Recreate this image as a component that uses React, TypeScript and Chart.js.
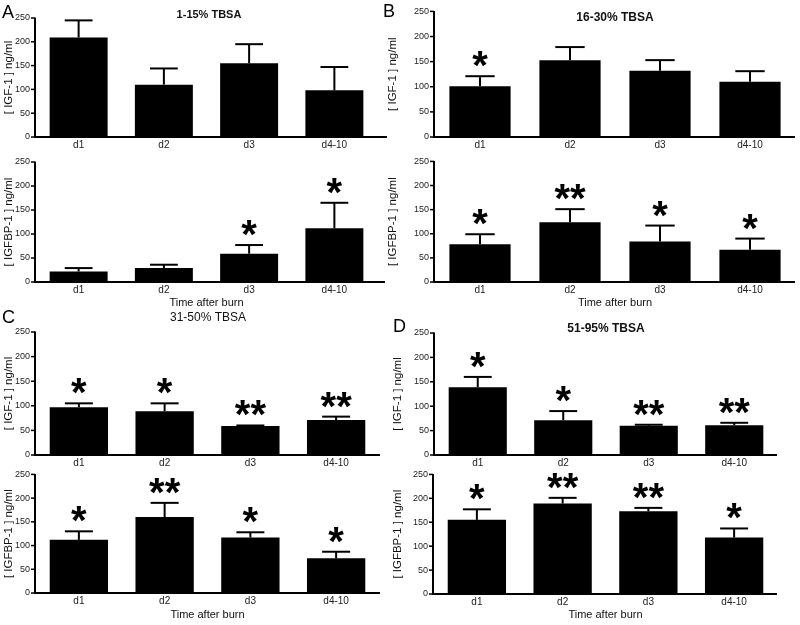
import React, { useEffect, useRef } from 'react';
import { Chart, registerables } from 'chart.js';
Chart.register(...registerables);

const CATEGORIES = ['d1', 'd2', 'd3', 'd4-10'];
const Y_MAX = 250;
const Y_STEP = 50;

const A_IGF1 = [209, 110, 155, 98];
const A_IGF1_SEM = [36, 34, 40, 49];
const A_IGF1_SIG = ['', '', '', ''];
const A_IGFBP1 = [22, 29, 59, 112];
const A_IGFBP1_SEM = [7, 7, 18, 53];
const A_IGFBP1_SIG = ['', '', '*', '*'];

const B_IGF1 = [101, 153, 132, 110];
const B_IGF1_SEM = [20, 26, 21, 21];
const B_IGF1_SIG = ['*', '', '', ''];
const B_IGFBP1 = [78, 124, 84, 67];
const B_IGFBP1_SEM = [21, 27, 33, 23];
const B_IGFBP1_SIG = ['*', '**', '*', '*'];

const C_IGF1 = [97, 89, 59, 71];
const C_IGF1_SEM = [8, 16, 1, 7];
const C_IGF1_SIG = ['*', '*', '**', '**'];
const C_IGFBP1 = [112, 160, 117, 73];
const C_IGFBP1_SEM = [18, 30, 11, 14];
const C_IGFBP1_SIG = ['*', '**', '*', '*'];

const D_IGF1 = [139, 71, 60, 61];
const D_IGF1_SEM = [21, 19, 2, 5];
const D_IGF1_SIG = ['*', '*', '**', '**'];
const D_IGFBP1 = [155, 189, 173, 118];
const D_IGFBP1_SEM = [22, 12, 7, 19];
const D_IGFBP1_SIG = ['*', '**', '**', '*'];

const Y_TITLE_IGF1 = '[ IGF-1 ] ng/ml';
const Y_TITLE_IGFBP1 = '[ IGFBP-1 ] ng/ml';
const X_TITLE = 'Time after burn';

const FONT = '"Liberation Sans", Arial, sans-serif';

type Spec = {
  key: string;
  cx: number; cy: number; cw: number; ch: number;
  L: number; R: number; T: number; B: number;
  ext: number;
  values: number[]; errs: number[]; sig: string[];
  yTitle: string; yTitlePad: number;
  xTitle?: boolean;
  sub?: { text: string; x: number; y: number; font: string };
  letter?: { text: string; x: number; y: number };
};

const SPECS: Spec[] = [
  { key: 'A1', cx: 0, cy: 0, cw: 400, ch: 150, L: 36, R: 377, T: 18, B: 137, ext: 10,
    values: A_IGF1, errs: A_IGF1_SEM, sig: A_IGF1_SIG, yTitle: Y_TITLE_IGF1, yTitlePad: 2,
    sub: { text: '1-15% TBSA', x: 209, y: 15, font: `bold 11px ${FONT}` },
    letter: { text: 'A', x: 2, y: 18 } },
  { key: 'A2', cx: 0, cy: 150, cw: 400, ch: 163, L: 36, R: 377, T: 162, B: 282, ext: 8,
    values: A_IGFBP1, errs: A_IGFBP1_SEM, sig: A_IGFBP1_SIG, yTitle: Y_TITLE_IGFBP1, yTitlePad: 2, xTitle: true },
  { key: 'B1', cx: 380, cy: 0, cw: 420, ch: 150, L: 435, R: 795, T: 9, B: 137, ext: 0,
    values: B_IGF1, errs: B_IGF1_SEM, sig: B_IGF1_SIG, yTitle: Y_TITLE_IGF1, yTitlePad: 6,
    sub: { text: '16-30% TBSA', x: 615, y: 18, font: `bold 12px ${FONT}` },
    letter: { text: 'B', x: 383, y: 17 } },
  { key: 'B2', cx: 380, cy: 150, cw: 420, ch: 163, L: 435, R: 795, T: 155, B: 282, ext: 0,
    values: B_IGFBP1, errs: B_IGFBP1_SEM, sig: B_IGFBP1_SIG, yTitle: Y_TITLE_IGFBP1, yTitlePad: 6, xTitle: true },
  { key: 'C1', cx: 0, cy: 300, cw: 400, ch: 175, L: 36, R: 379, T: 332, B: 455, ext: 1,
    values: C_IGF1, errs: C_IGF1_SEM, sig: C_IGF1_SIG, yTitle: Y_TITLE_IGF1, yTitlePad: 2,
    sub: { text: '31-50% TBSA', x: 208, y: 318, font: `12px ${FONT}` },
    letter: { text: 'C', x: 2, y: 323 } },
  { key: 'C2', cx: 0, cy: 463, cw: 400, ch: 162, L: 36, R: 379, T: 472, B: 593, ext: 1,
    values: C_IGFBP1, errs: C_IGFBP1_SEM, sig: C_IGFBP1_SIG, yTitle: Y_TITLE_IGFBP1, yTitlePad: 2, xTitle: true },
  { key: 'D1', cx: 380, cy: 300, cw: 420, ch: 175, L: 435, R: 777, T: 333, B: 455, ext: 0,
    values: D_IGF1, errs: D_IGF1_SEM, sig: D_IGF1_SIG, yTitle: Y_TITLE_IGF1, yTitlePad: 11,
    sub: { text: '51-95% TBSA', x: 606, y: 329, font: `bold 12px ${FONT}` },
    letter: { text: 'D', x: 393, y: 332 } },
  { key: 'D2', cx: 380, cy: 463, cw: 420, ch: 162, L: 434, R: 777, T: 472, B: 594, ext: 0,
    values: D_IGFBP1, errs: D_IGFBP1_SEM, sig: D_IGFBP1_SIG, yTitle: Y_TITLE_IGFBP1, yTitlePad: 11, xTitle: true },
];

function overlayPlugin(s: Spec) {
  return {
    id: 'overlay' + s.key,
    afterDraw(chart: any) {
      const ctx = chart.ctx as CanvasRenderingContext2D;
      const { left, right, bottom } = chart.chartArea;
      const y = chart.scales.y;
      ctx.save();
      ctx.strokeStyle = '#000';
      ctx.fillStyle = '#000';
      const ax = left - 1;
      ctx.lineWidth = 2;
      ctx.beginPath();
      ctx.moveTo(ax, y.getPixelForValue(Y_MAX) - 0.5);
      ctx.lineTo(ax, bottom + 1);
      ctx.stroke();
      ctx.beginPath();
      ctx.moveTo(ax - 1, bottom);
      ctx.lineTo(right + s.ext, bottom);
      ctx.stroke();
      ctx.lineWidth = 1.5;
      for (const t of y.ticks) {
        const py = y.getPixelForValue(t.value);
        ctx.beginPath();
        ctx.moveTo(ax - 4, py);
        ctx.lineTo(ax, py);
        ctx.stroke();
      }
      const meta = chart.getDatasetMeta(0);
      meta.data.forEach((bar: any, i: number) => {
        const v = s.values[i];
        const e = s.errs[i];
        const p0 = y.getPixelForValue(v);
        const p1 = y.getPixelForValue(v + e);
        const bx = bar.x;
        const half = bar.width * 0.24;
        ctx.lineWidth = 2;
        ctx.beginPath();
        ctx.moveTo(bx, p0);
        ctx.lineTo(bx, p1);
        ctx.stroke();
        ctx.beginPath();
        ctx.moveTo(bx - half, p1);
        ctx.lineTo(bx + half, p1);
        ctx.stroke();
        if (s.sig[i]) {
          ctx.font = `bold 40px ${FONT}`;
          ctx.textAlign = 'center';
          ctx.textBaseline = 'alphabetic';
          const m = ctx.measureText(s.sig[i]);
          const asc = m.actualBoundingBoxAscent;
          const desc = m.actualBoundingBoxDescent;
          const centerY = p1 - 17;
          ctx.fillText(s.sig[i], bx, centerY + (asc - desc) / 2);
        }
      });
      if (s.sub) {
        ctx.font = s.sub.font;
        ctx.textAlign = 'center';
        ctx.textBaseline = 'middle';
        ctx.fillStyle = '#111';
        ctx.fillText(s.sub.text, s.sub.x - s.cx, s.sub.y - s.cy);
      }
      if (s.letter) {
        ctx.font = `18px ${FONT}`;
        ctx.textAlign = 'left';
        ctx.textBaseline = 'alphabetic';
        ctx.fillStyle = '#000';
        ctx.fillText(s.letter.text, s.letter.x - s.cx, s.letter.y - s.cy);
      }
      ctx.restore();
    },
  };
}

function SubChart({ s }: { s: Spec }) {
  const ref = useRef<HTMLCanvasElement>(null);
  useEffect(() => {
    const padTop = s.T - s.cy;
    const padRight = s.cx + s.cw - s.R;
    const yWidth = s.L - s.cx;
    const xHeight = s.cy + s.ch - s.B;
    const chart = new Chart(ref.current!, {
      type: 'bar',
      data: {
        labels: CATEGORIES,
        datasets: [{
          data: s.values,
          backgroundColor: '#000',
          borderWidth: 0,
          barPercentage: 0.68,
          categoryPercentage: 1,
        }],
      },
      options: {
        animation: false,
        responsive: false,
        devicePixelRatio: 1,
        layout: { padding: { top: padTop, right: padRight, left: 0, bottom: 0 } },
        plugins: { legend: { display: false }, tooltip: { enabled: false }, title: { display: false } },
        scales: {
          x: {
            grid: { display: false, drawTicks: false },
            border: { display: false },
            ticks: { font: { family: FONT, size: 10 }, color: '#222', padding: 2, maxRotation: 0, autoSkip: false },
            title: {
              display: !!s.xTitle, text: X_TITLE, color: '#111',
              font: { family: FONT, size: 11 }, padding: { top: 0, bottom: 3 },
            },
            afterFit: (sc: any) => { sc.height = xHeight; },
          },
          y: {
            min: 0, max: Y_MAX,
            grid: { display: false, drawTicks: false },
            border: { display: false },
            ticks: { stepSize: Y_STEP, font: { family: FONT, size: 9 }, color: '#222', padding: 6 },
            title: {
              display: true, text: s.yTitle, color: '#111',
              font: { family: FONT, size: 11.5 }, padding: { top: s.yTitlePad, bottom: 0 },
            },
            afterFit: (sc: any) => { sc.width = yWidth; },
          },
        },
      },
      plugins: [overlayPlugin(s)],
    } as any);
    return () => chart.destroy();
  }, []);
  return (
    <canvas
      ref={ref}
      width={s.cw}
      height={s.ch}
      style={{ position: 'absolute', left: s.cx, top: s.cy, width: s.cw, height: s.ch }}
    />
  );
}

export default function App() {
  return (
    <div style={{ position: 'absolute', left: 0, top: 0, width: 800, height: 625, background: '#fff', overflow: 'hidden' }}>
      {SPECS.map((s) => <SubChart key={s.key} s={s} />)}
    </div>
  );
}
